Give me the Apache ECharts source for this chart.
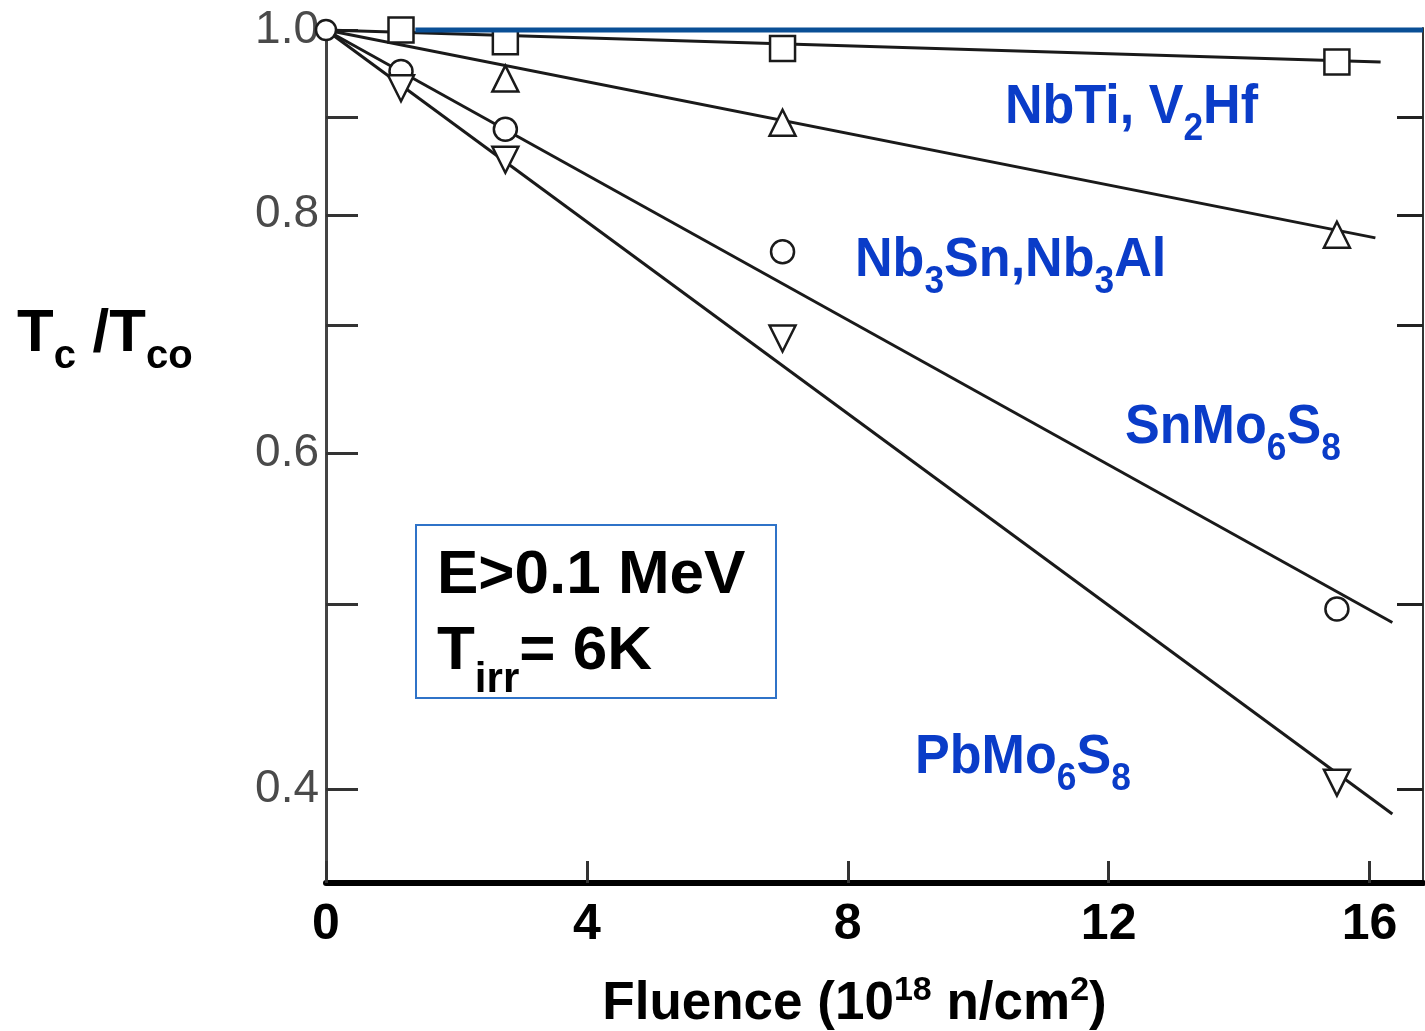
<!DOCTYPE html>
<html><head><meta charset="utf-8">
<script src="https://cdn.jsdelivr.net/npm/echarts@6/dist/echarts.min.js"></script>
<style>html,body{margin:0;padding:0;background:#fff;overflow:hidden}#c{width:1425px;height:1031px}</style>
</head><body><div id="c"></div>
<script>
// ---- tick values ----
const xTicks = [0, 4, 8, 12, 16];
const yTickValues = [0.4, 0.5, 0.6, 0.7, 0.8, 0.9, 1.0];
const yLabelValues = [0.4, 0.6, 0.8, 1.0];
const rightTickValues = [0.4, 0.5, 0.7, 0.8, 0.9];

// ---- measured points (fluence 1e18 n/cm2, Tc/Tco) ----
const originX = [0];
const originY = [1.0];
const sqX = [1.15, 2.75, 7.0, 15.5];          // NbTi, V2Hf
const sqY = [1.0, 0.986, 0.978, 0.962];
const triX = [2.75, 7.0, 15.5];               // Nb3Sn, Nb3Al
const triY = [0.943, 0.894, 0.781];
const cirX = [1.15, 2.75, 7.0, 15.5];         // SnMo6S8
const cirY = [0.951, 0.887, 0.765, 0.497];
const invX = [1.15, 2.75, 7.0, 15.5];         // PbMo6S8
const invY = [0.932, 0.855, 0.689, 0.403];

// ---- fitted lines (start / end) ----
const fitNbTiX = [0, 16.17], fitNbTiY = [1.0, 0.962];
const fitNb3SnX = [0, 16.09], fitNb3SnY = [1.0, 0.778];
const fitSnMoX = [0, 16.35], fitSnMoY = [1.0, 0.489];
const fitPbMoX = [0, 16.35], fitPbMoY = [1.0, 0.388];
const blueX = [1.37, 16.82], blueY = [1.0, 1.0];

const zip = (a, b) => a.map((v, i) => [v, b[i]]);

const SANS = "'Liberation Sans', Arial, sans-serif";
const BLUE = '#0a3cc8';
const INK = '#1a1a1a';

const chart = echarts.init(document.getElementById('c'), null, {renderer: 'canvas'});

function fitLine(x, y) {
  return {type: 'line', data: zip(x, y), symbol: 'none', z: 2, silent: true,
    lineStyle: {color: INK, width: 3}};
}
function markers(x, y, symbol, size, rotate) {
  return {type: 'scatter', data: zip(x, y), symbol: symbol, symbolSize: size,
    symbolRotate: rotate || 0, z: 4, silent: true,
    itemStyle: {color: '#fff', borderColor: INK, borderWidth: 2.5, opacity: 1}};
}

// text made of pieces with sub/superscripts: parts = [[text, size, dy]]
const mctx = document.createElement('canvas').getContext('2d');
function pieces(x0, baseline, parts, color, scaleX) {
  const children = [];
  let x = 0;
  parts.forEach(function (p) {
    const font = 'bold ' + p[1] + 'px ' + SANS;
    mctx.font = font;
    const w = mctx.measureText(p[0]).width;
    children.push({type: 'text', x: x, y: p[2] - 0.3465 * p[1],
      style: {text: p[0], font: font, fill: color, align: 'left', verticalAlign: 'middle'}});
    x += w;
  });
  return {type: 'group', x: x0, y: baseline, scaleX: scaleX || 1, z: 10, children: children};
}

const B = 56, BS = 38, BD = 16;   // blue annotation sizes
const option = {
  animation: false,
  backgroundColor: '#fff',
  grid: {left: 326, right: 2, top: 28, bottom: 148, show: false,
    containLabel: false, outerBoundsMode: 'none'},
  xAxis: {
    type: 'value', min: 0, max: 16.82,
    axisLine: {show: true, onZero: false, lineStyle: {color: '#000', width: 6}},
    axisTick: {show: true, inside: true, length: 22, customValues: xTicks,
      lineStyle: {color: '#333', width: 3}},
    axisLabel: {show: true, customValues: xTicks, margin: 17,
      fontFamily: SANS, fontWeight: 'bold', fontSize: 50, color: '#000'},
    splitLine: {show: false},
    name: '{a|Fluence (10}{s|18}{a| n/cm}{s|2}{a|)}',
    nameLocation: 'middle', nameGap: 91,
    nameTextStyle: {padding: [0, 40, 0, 0], rich: {
      a: {fontFamily: SANS, fontWeight: 'bold', fontSize: 53, lineHeight: 60, color: '#000', verticalAlign: 'middle'},
      s: {fontFamily: SANS, fontWeight: 'bold', fontSize: 34, lineHeight: 40, color: '#000', verticalAlign: 'top'}
    }}
  },
  yAxis: [{
    type: 'log', min: 0.357, max: 1.0024, position: 'left',
    axisLine: {show: true, lineStyle: {color: '#444', width: 3}},
    axisTick: {show: true, inside: true, length: 32, customValues: yTickValues,
      lineStyle: {color: '#333', width: 3}},
    axisLabel: {show: true, customValues: yLabelValues, margin: 7,
      formatter: v => Number(v).toFixed(1),
      fontFamily: SANS, fontSize: 46, color: '#4a4a4a'},
    splitLine: {show: false}
  }, {
    type: 'log', min: 0.357, max: 1.0024, position: 'right',
    axisLine: {show: true, lineStyle: {color: '#333', width: 2}},
    axisTick: {show: true, inside: true, length: 26, customValues: rightTickValues,
      lineStyle: {color: '#222', width: 3}},
    axisLabel: {show: false},
    splitLine: {show: false}
  }],
  series: [
    fitLine(fitNbTiX, fitNbTiY),
    fitLine(fitNb3SnX, fitNb3SnY),
    fitLine(fitSnMoX, fitSnMoY),
    fitLine(fitPbMoX, fitPbMoY),
    markers(originX, originY, 'circle', 20),
    markers(sqX, sqY, 'rect', 25),
    markers(triX, triY, 'triangle', 26),
    markers(cirX, cirY, 'circle', 23),
    markers(invX, invY, 'triangle', 26, 180),
    {type: 'line', data: zip(blueX, blueY), symbol: 'none', z: 6, silent: true,
      lineStyle: {color: '#0a4f96', width: 5}}
  ],
  graphic: [
    pieces(1005, 127, [['NbTi, V', B, 0], ['2', BS, BD], ['Hf', B, 0]], BLUE, 0.93),
    pieces(855, 280, [['Nb', B, 0], ['3', BS, BD], ['Sn,Nb', B, 0], ['3', BS, BD], ['Al', B, 0]], BLUE, 0.93),
    pieces(1125, 447, [['SnMo', B, 0], ['6', BS, BD], ['S', B, 0], ['8', BS, BD]], BLUE, 0.93),
    pieces(915, 777, [['PbMo', B, 0], ['6', BS, BD], ['S', B, 0], ['8', BS, BD]], BLUE, 0.93),
    {type: 'rect', shape: {x: 416, y: 525, width: 360, height: 173}, z: 9,
      style: {fill: 'rgba(0,0,0,0)', stroke: '#2f73c8', lineWidth: 2}},
    pieces(437, 597, [['E>0.1 MeV', 62, 0]], '#000'),
    pieces(437, 673, [['T', 62, 0], ['irr', 42, 22], ['= 6K', 62, 0]], '#000'),
    pieces(17, 355, [['T', 60, 0], ['c', 40, 16], [' /T', 60, 0], ['co', 40, 16]], '#000')
  ]
};
chart.setOption(option);
</script>
</body></html>
